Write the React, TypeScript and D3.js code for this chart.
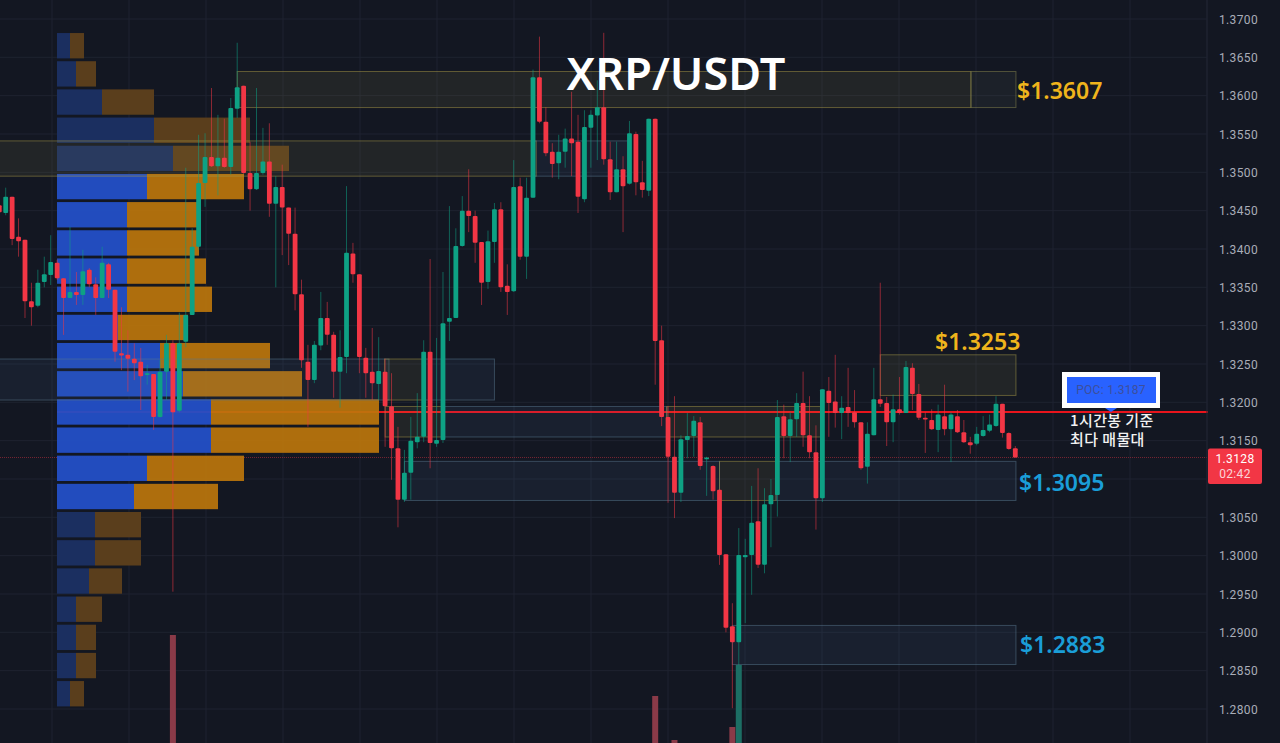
import React from "react";
import * as d3 from "d3";

// candle values, index -1 .. 157
const opens = [1.3457,1.3447,1.3468,1.3416,1.3412,1.3332,1.3326,1.3357,1.3366,1.3382,1.3362,1.3336,1.3344,1.3340,1.3373,1.3354,1.3336,1.3380,1.3347,1.3264,1.3262,1.3257,1.3253,1.3236,1.3237,1.3181,1.3240,1.3277,1.3189,1.3279,1.3314,1.3403,1.3486,1.3520,1.3508,1.3519,1.3507,1.3583,1.3613,1.3499,1.3478,1.3499,1.3514,1.3459,1.3481,1.3454,1.3420,1.3341,1.3253,1.3229,1.3274,1.3310,1.3288,1.3240,1.3259,1.3394,1.3367,1.3258,1.3240,1.3224,1.3240,1.3195,1.3140,1.3073,1.3108,1.3148,1.3155,1.3266,1.3146,1.3151,1.3305,1.3310,1.3404,1.3450,1.3443,1.3409,1.3357,1.3409,1.3452,1.3352,1.3345,1.3482,1.3390,1.3467,1.3624,1.3566,1.3527,1.3512,1.3527,1.3544,1.3540,1.3465,1.3558,1.3574,1.3585,1.3517,1.3474,1.3504,1.3485,1.3550,1.3487,1.3476,1.3570,1.3281,1.3181,1.3129,1.3082,1.3151,1.3156,1.3174,1.3126,1.3117,1.3086,1.3002,1.2908,1.2887,1.2998,1.3001,1.3045,1.2988,1.3067,1.3079,1.3182,1.3156,1.3178,1.3199,1.3157,1.3135,1.3075,1.3215,1.3201,1.3186,1.3194,1.3187,1.3174,1.3116,1.3157,1.3204,1.3199,1.3174,1.3191,1.3186,1.3245,1.3211,1.3180,1.3177,1.3164,1.3182,1.3165,1.3182,1.3161,1.3148,1.3146,1.3156,1.3163,1.3169,1.3198,1.3160,1.3140];
const closes = [1.3448,1.3468,1.3413,1.3410,1.3332,1.3324,1.3356,1.3367,1.3383,1.3362,1.3336,1.3344,1.3340,1.3371,1.3354,1.3336,1.3382,1.3347,1.3266,1.3261,1.3257,1.3251,1.3234,1.3238,1.3181,1.3240,1.3277,1.3187,1.3277,1.3314,1.3403,1.3486,1.3520,1.3508,1.3519,1.3507,1.3584,1.3611,1.3499,1.3478,1.3499,1.3514,1.3459,1.3481,1.3454,1.3420,1.3341,1.3255,1.3229,1.3275,1.3310,1.3288,1.3240,1.3259,1.3395,1.3367,1.3259,1.3238,1.3225,1.3241,1.3195,1.3140,1.3073,1.3108,1.3150,1.3155,1.3266,1.3147,1.3151,1.3303,1.3310,1.3404,1.3450,1.3443,1.3408,1.3356,1.3410,1.3452,1.3350,1.3344,1.3481,1.3390,1.3467,1.3624,1.3566,1.3525,1.3511,1.3527,1.3544,1.3538,1.3468,1.3559,1.3575,1.3585,1.3517,1.3474,1.3504,1.3482,1.3551,1.3487,1.3477,1.3570,1.3280,1.3181,1.3129,1.3082,1.3152,1.3156,1.3176,1.3117,1.3128,1.3084,1.3001,1.2906,1.2887,1.3001,1.3001,1.3043,1.2988,1.3067,1.3079,1.3181,1.3156,1.3178,1.3199,1.3157,1.3135,1.3075,1.3217,1.3199,1.3186,1.3193,1.3186,1.3174,1.3114,1.3159,1.3204,1.3198,1.3174,1.3191,1.3186,1.3246,1.3211,1.3180,1.3178,1.3165,1.3184,1.3165,1.3184,1.3161,1.3148,1.3144,1.3159,1.3164,1.3171,1.3198,1.3160,1.3139,1.3128];
const highs = [1.3458,1.3480,1.3468,1.3440,1.3412,1.3356,1.3373,1.3390,1.3418,1.3386,1.3362,1.3429,1.3370,1.3399,1.3375,1.3363,1.3403,1.3382,1.3347,1.3324,1.3294,1.3277,1.3271,1.3249,1.3237,1.3255,1.3288,1.3281,1.3317,1.3506,1.3427,1.3549,1.3551,1.3610,1.3575,1.3570,1.3597,1.3669,1.3613,1.3540,1.3610,1.3558,1.3564,1.3495,1.3510,1.3454,1.3454,1.3360,1.3275,1.3280,1.3344,1.3331,1.3292,1.3294,1.3482,1.3408,1.3367,1.3271,1.3297,1.3285,1.3257,1.3238,1.3168,1.3138,1.3181,1.3212,1.3281,1.3387,1.3284,1.3370,1.3456,1.3427,1.3469,1.3504,1.3450,1.3409,1.3424,1.3460,1.3461,1.3380,1.3516,1.3493,1.3493,1.3634,1.3677,1.3585,1.3538,1.3549,1.3557,1.3605,1.3575,1.3581,1.3581,1.3620,1.3682,1.3540,1.3540,1.3521,1.3567,1.3553,1.3515,1.3570,1.3570,1.3300,1.3195,1.3208,1.3157,1.3186,1.3182,1.3181,1.3129,1.3118,1.3086,1.3002,1.2938,1.3036,1.3022,1.3091,1.3114,1.3088,1.3100,1.3203,1.3197,1.3187,1.3212,1.3240,1.3208,1.3170,1.3217,1.3233,1.3262,1.3208,1.3245,1.3216,1.3174,1.3174,1.3245,1.3356,1.3207,1.3210,1.3233,1.3254,1.3251,1.3224,1.3187,1.3191,1.3197,1.3223,1.3187,1.3190,1.3177,1.3155,1.3168,1.3182,1.3184,1.3208,1.3198,1.3161,1.3143];
const lows = [1.3447,1.3444,1.3405,1.3390,1.3310,1.3300,1.3324,1.3350,1.3353,1.3360,1.3288,1.3336,1.3327,1.3327,1.3350,1.3314,1.3336,1.3336,1.3253,1.3242,1.3214,1.3229,1.3190,1.3223,1.3164,1.3180,1.3203,1.2953,1.3187,1.3272,1.3314,1.3399,1.3455,1.3507,1.3470,1.3506,1.3497,1.3571,1.3498,1.3450,1.3477,1.3497,1.3442,1.3350,1.3392,1.3379,1.3320,1.3245,1.3168,1.3225,1.3268,1.3275,1.3206,1.3193,1.3238,1.3356,1.3238,1.3206,1.3203,1.3203,1.3142,1.3099,1.3037,1.3070,1.3073,1.3140,1.3148,1.3114,1.3142,1.3147,1.3280,1.3310,1.3403,1.3422,1.3382,1.3327,1.3348,1.3382,1.3344,1.3314,1.3344,1.3386,1.3361,1.3467,1.3564,1.3521,1.3493,1.3491,1.3506,1.3495,1.3447,1.3461,1.3506,1.3516,1.3510,1.3464,1.3474,1.3422,1.3484,1.3470,1.3467,1.3469,1.3223,1.3169,1.3069,1.3049,1.3070,1.3127,1.3129,1.3112,1.3078,1.3073,1.2988,1.2900,1.2801,1.2857,1.2912,1.2949,1.2984,1.2977,1.3011,1.3051,1.3127,1.3122,1.3155,1.3142,1.3127,1.3034,1.3070,1.3155,1.3167,1.3152,1.3168,1.3167,1.3112,1.3094,1.3157,1.3194,1.3143,1.3148,1.3184,1.3186,1.3190,1.3177,1.3134,1.3164,1.3135,1.3157,1.3122,1.3160,1.3147,1.3133,1.3144,1.3155,1.3161,1.3168,1.3154,1.3138,1.3128];

// price axis
const priceTicks = [1.37,1.365,1.36,1.355,1.35,1.345,1.34,1.335,1.33,1.325,1.32,1.315,1.31,1.305,1.3,1.295,1.29,1.285,1.28];
const priceLabels = priceTicks.filter(t => t !== 1.31); // 1.3100 sits behind the last-price tag

// volume profile, top row to bottom row
const profileTop = 1.36817;
const profileStep = 0.003675;
const profileBuy = [13,19,45,97,116,90,70,70,70,70,61,103,126,154,154,90,77,38,38,32,19,19,19,13];
const profileSell = [14,20,52,96,116,97,70,72,79,85,70,110,119,168,168,97,84,46,46,33,26,20,20,14];
const profileBright = [5,6,7,8,9,10,11,12,13,14,15,16];

// bottom volume bars
const volumeIdx = [26,101,104,113,114];
const volumeVal = [108,47,3,16,78];

// zones: [first index, last index, top price, bottom price, kind]
const zones: [number,number,number,number,string][] = [
  [36,150.1,1.36315,1.35845,"y"],
  [150.1,157.1,1.36315,1.35845,"g"],
  [-1.9,81.8,1.3541,1.3495,"y"],
  [81.8,97.2,1.3541,1.3495,"b"],
  [-1.9,58.9,1.32565,1.3203,"b"],
  [58.9,64.9,1.32565,1.3203,"y"],
  [64.9,76,1.32565,1.3203,"b"],
  [59,68,1.31946,1.31548,"y"],
  [68,102.8,1.31946,1.31548,"b"],
  [102.8,127.1,1.31946,1.31548,"y"],
  [62,111,1.3123,1.3072,"b"],
  [111,119.8,1.3123,1.3072,"y"],
  [119.8,157.1,1.3123,1.3072,"b"],
  [136,157.1,1.3262,1.3209,"y"],
  [113,157.1,1.2909,1.2858,"b"],
];

const POC = 1.31873;
const LAST = 1.3128;

const W = 1280, H = 743;
const y = d3.scaleLinear().domain([1.37,1.28]).range([19,709]);
const x = d3.scaleLinear().domain([0,157]).range([5.7,1015.3]);
const vx = d3.scaleLinear().domain([0,100]).range([57,157]);
const vol = d3.scaleLinear().domain([0,100]).range([743,643]);
const gridX = d3.range(52,1208,77);
const UP = "#0ea184", DOWN = "#f23645";
const SANS = "'Noto Sans', Roboto, sans-serif";
const KR = "'Noto Sans CJK KR', sans-serif";

export default function App() {
  const line = d3.line();
  return (
    <svg width={W} height={H} viewBox={`0 0 ${W} ${H}`} style={{position:"fixed",left:0,top:0,display:"block"}}>
      <rect width={W} height={H} fill="#131722"/>
      {priceTicks.map(t => <line key={t} x1={0} x2={1207} y1={y(t)} y2={y(t)} stroke="#1e2330" strokeWidth={1}/>)}
      {gridX.map(g => <line key={g} x1={g} x2={g} y1={0} y2={H} stroke="#1e2330" strokeWidth={1}/>)}

      {/* last price line */}
      <line x1={0} x2={1208} y1={y(LAST)} y2={y(LAST)} stroke="#f23645" strokeOpacity={0.45} strokeWidth={1} strokeDasharray="1 1"/>
      {/* POC line */}
      <line x1={57} x2={1208} y1={y(POC)} y2={y(POC)} stroke="#e8141c" strokeWidth={2}/>

      {/* profile */}
      {profileBuy.map((b,i) => {
        const bright = profileBright.includes(i);
        const top = y(profileTop - i*profileStep);
        const h = y(profileTop - profileStep*0.9) - y(profileTop);
        return <g key={i}>
          <rect x={vx(0)} y={top} width={vx(b)-vx(0)} height={h} fill={bright?"#2350c8":"#1b2f60"} fillOpacity={bright?0.94:1}/>
          <rect x={vx(b)} y={top} width={vx(b+profileSell[i])-vx(b)} height={h} fill={bright?"#bc760c":"#5a3e1c"} fillOpacity={bright?0.92:1}/>
        </g>;
      })}

      {/* zones */}
      {zones.map((z,i) => {
        const c = z[4]==="y" ? {f:"#c8b860",s:"#a89a48",o:0.085} : z[4]==="g" ? {f:"#9aa08a",s:"#8c8a50",o:0.075} : {f:"#4a7aa8",s:"#5a7a90",o:0.1};
        return <rect key={i} x={Math.max(x(z[0]),-2)} y={y(z[2])} width={x(z[1])-x(z[0])} height={y(z[3])-y(z[2])} fill={c.f} fillOpacity={c.o} stroke={c.s} strokeOpacity={0.5} strokeWidth={1}/>;
      })}

      {/* volume bars */}
      {volumeIdx.map((v,i) => {
        const green = closes[v+1] > opens[v+1];
        return <rect key={v} x={x(v)-3} y={vol(volumeVal[i])} width={6} height={H-vol(volumeVal[i])} fill={green?"#1c6e64":"#8a3a48"}/>;
      })}

      {/* candles */}
      {opens.map((o,k) => {
        const i = k-1, c = closes[k], up = c>=o, col = up?UP:DOWN;
        const top = y(Math.max(o,c)), bot = y(Math.min(o,c));
        return <g key={k}>
          <path d={line([[x(i),y(highs[k])],[x(i),y(lows[k])]]) as string} stroke={col} strokeOpacity={0.55} strokeWidth={1} fill="none"/>
          <rect x={x(i)-2.4} y={top} width={4.8} height={Math.max(bot-top,1.8)} rx={1} fill={col}/>
        </g>;
      })}

      {/* axis */}
      <line x1={1207} x2={1207} y1={0} y2={H} stroke="#1e2330"/>
      {priceLabels.map(t => <text key={t} x={1219} y={y(t)+4.5} fontFamily="Roboto, sans-serif" fontSize={12} letterSpacing={0.35} fill="#a9adb8">{t.toFixed(4)}</text>)}
      <rect x={1208} y={448.5} width={54} height={35.5} rx={2} fill="#f23645"/>
      <text x={1235} y={463} textAnchor="middle" fontFamily="Roboto, sans-serif" fontSize={12} letterSpacing={0.35} fill="#fff">{LAST.toFixed(4)}</text>
      <text x={1235} y={478} textAnchor="middle" fontFamily="Roboto, sans-serif" fontSize={12} letterSpacing={0.35} fill="#fff" fillOpacity={0.8}>02:42</text>

      {/* labels */}
      <text x={676} y={90} textAnchor="middle" fontFamily={SANS} fontSize={45} fontWeight={600} fill="#fff">XRP/USDT</text>
      <text x={1017} y={99} fontFamily={SANS} fontSize={23} fontWeight={600} fill="#efb41c">$1.3607</text>
      <text x={935} y={350} fontFamily={SANS} fontSize={23} fontWeight={600} fill="#efb41c">$1.3253</text>
      <text x={1019} y={491} fontFamily={SANS} fontSize={23} fontWeight={600} fill="#1a9ed8">$1.3095</text>
      <text x={1020} y={653} fontFamily={SANS} fontSize={23} fontWeight={600} fill="#1a9ed8">$1.2883</text>

      {/* POC tag */}
      <rect x={1062} y={372} width={98} height={36} fill="#fff"/>
      <rect x={1067} y={377} width={89} height={26} fill="#2962ff"/>
      <path d={d3.line()([[1105,408],[1117,408],[1111,412]]) as string} fill="#2962ff"/>
      <text x={1111} y={394} textAnchor="middle" fontFamily="Roboto, sans-serif" fontSize={12} letterSpacing={0.3} fill="#3d4f9c">POC: {POC.toFixed(4)}</text>
      <text x={1070} y={426} fontFamily={KR} fontSize={15} fontWeight={500} letterSpacing={0.4} fill="#f2f2f2">1시간봉 기준</text>
      <text x={1070} y={445} fontFamily={KR} fontSize={15} fontWeight={500} letterSpacing={0.4} fill="#f2f2f2">최다 매물대</text>
    </svg>
  );
}
